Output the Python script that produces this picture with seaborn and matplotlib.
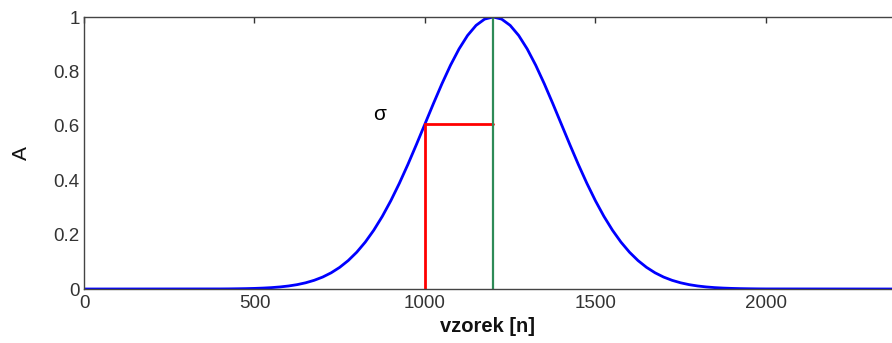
import matplotlib
matplotlib.use("Agg")
import matplotlib.pyplot as plt
import seaborn as sns
import pandas as pd

# Gaussian pulse samples (amplitude vs. sample index)
sample_n = [0, 400, 425, 450, 475, 500, 525, 550, 575, 600, 625, 650, 675, 700, 725,
            750, 775, 800, 825, 850, 875, 900, 925, 950, 975, 1000, 1025, 1050,
            1075, 1100, 1125, 1150, 1175, 1200, 1225, 1250, 1275, 1300, 1325,
            1350, 1375, 1400, 1425, 1450, 1475, 1500, 1525, 1550, 1575, 1600,
            1625, 1650, 1675, 1700, 1725, 1750, 1775, 1800, 1825, 1850, 1875,
            1900, 1925, 1950, 1975, 2000, 2370]
amplitude = [0.0, 0.0003, 0.0005, 0.0009, 0.0014, 0.0022, 0.0034, 0.0051, 0.0076,
             0.0111, 0.0160, 0.0228, 0.0319, 0.0439, 0.0596, 0.0796, 0.1046,
             0.1353, 0.1724, 0.2163, 0.2671, 0.3247, 0.3886, 0.4578, 0.5311,
             0.6065, 0.6819, 0.7548, 0.8226, 0.8825, 0.9321, 0.9692, 0.9922,
             1.0, 0.9922, 0.9692, 0.9321, 0.8825, 0.8226, 0.7548, 0.6819,
             0.6065, 0.5311, 0.4578, 0.3886, 0.3247, 0.2671, 0.2163, 0.1724,
             0.1353, 0.1046, 0.0796, 0.0596, 0.0439, 0.0319, 0.0228, 0.0160,
             0.0111, 0.0076, 0.0051, 0.0034, 0.0022, 0.0014, 0.0009, 0.0005,
             0.0003, 0.0]

# Markers: pulse centre and the one-sigma point
center_n = 1200
sigma_n = 1000
sigma_level = 0.6065
peak_level = 1.0

x_ticks = [0, 500, 1000, 1500, 2000]
y_ticks = [0, 0.2, 0.4, 0.6, 0.8, 1.0]
y_tick_labels = ["0", "0.2", "0.4", "0.6", "0.8", "1"]

sns.set_style("white")
plt.rcParams["font.family"] = ["Liberation Sans", "DejaVu Sans"]

fig = plt.figure(figsize=(8.92, 3.43), dpi=100)
ax = fig.add_axes([84 / 892, 54 / 343, 1 - 84 / 892, 272 / 343])

df = pd.DataFrame({"n": sample_n, "A": amplitude})
sns.lineplot(data=df, x="n", y="A", ax=ax, color="#0000ff", linewidth=2.0)

# one-sigma bracket
ax.plot([sigma_n, sigma_n, center_n], [0, sigma_level, sigma_level],
        color="#ff0000", linewidth=2.0, solid_joinstyle="miter")
# centre line
ax.plot([center_n, center_n], [0, peak_level], color="#2e8b57", linewidth=1.6)

ax.text(868, 0.64, "σ", fontsize=15, ha="center", va="center", color="black")

ax.set_xlim(0, 2370)
ax.set_ylim(0, 1)
ax.set_xticks(x_ticks)
ax.set_yticks(y_ticks)
ax.set_yticklabels(y_tick_labels)
ax.tick_params(direction="in", length=4, width=1, top=True, right=False,
               labelsize=13.5, colors="#333333", pad=4)
ax.tick_params(axis="y", pad=3)
for s in ["left", "bottom", "top"]:
    ax.spines[s].set_color("#444444")
    ax.spines[s].set_linewidth(1.0)
ax.spines["right"].set_visible(False)

ax.set_xlabel("vzorek [n]", fontsize=14.5, fontweight="bold", labelpad=4,
              color="#111111")
ax.set_ylabel("A", fontsize=15, labelpad=16, color="#111111")

fig.savefig("out.png", dpi=100)
